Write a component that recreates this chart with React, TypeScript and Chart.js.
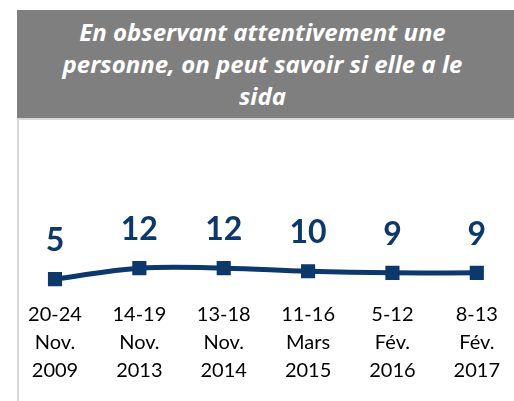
import React, { useEffect, useRef } from "react";
import { Chart, registerables } from "chart.js";

Chart.register(...registerables);

const titleLines = [
  "En observant attentivement une",
  "personne, on peut savoir si elle a le",
  "sida",
];
const categories = [
  ["20-24", "Nov.", "2009"],
  ["14-19", "Nov.", "2013"],
  ["13-18", "Nov.", "2014"],
  ["11-16", "Mars", "2015"],
  ["5-12", "Fév.", "2016"],
  ["8-13", "Fév.", "2017"],
];
const values = [5, 12, 12, 10, 9, 9];

const NAVY = "#0c386b";

const valueLabels = {
  id: "valueLabels",
  afterDatasetsDraw(chart: any) {
    const ctx = chart.ctx;
    const meta = chart.getDatasetMeta(0);
    ctx.save();
    ctx.fillStyle = NAVY;
    ctx.font = "bold 32px Lato";
    ctx.textAlign = "center";
    ctx.textBaseline = "alphabetic";
    meta.data.forEach((pt: any, i: number) => {
      ctx.fillText(String(values[i]), pt.x, pt.y - 28);
    });
    ctx.restore();
  },
};

export default function App() {
  const ref = useRef<HTMLCanvasElement>(null);
  useEffect(() => {
    if (!ref.current) return;
    const chart = new Chart(ref.current, {
      type: "line",
      data: {
        labels: categories,
        datasets: [
          {
            data: values,
            borderColor: NAVY,
            backgroundColor: NAVY,
            borderWidth: 5,
            tension: 0.4,
            pointStyle: "rect",
            pointRadius: 10,
            pointBackgroundColor: NAVY,
            pointBorderColor: NAVY,
            pointBorderWidth: 0,
          },
        ],
      },
      options: {
        animation: false,
        responsive: false,
        maintainAspectRatio: false,
        layout: { padding: { left: 55, right: 26, top: 130, bottom: 2 } },
        plugins: { legend: { display: false }, tooltip: { enabled: false } },
        scales: {
          x: {
            offset: false,
            grid: { display: false, drawTicks: false },
            border: { display: false },
            ticks: {
              color: "#000",
              font: { family: "Lato", size: 20, lineHeight: "28px" },
              padding: 14,
              autoSkip: false,
              maxRotation: 0,
              minRotation: 0,
            },
          },
          y: { display: false, min: 0, max: 100 },
        },
      },
      plugins: [valueLabels],
    });
    return () => chart.destroy();
  }, []);

  return (
    <div style={{ position: "fixed", left: 0, top: 0, width: 514, height: 401, background: "#fff", overflow: "hidden" }}>
      <canvas ref={ref} width={514} height={401} style={{ position: "absolute", left: 0, top: 0 }} />
      <div
        style={{
          position: "absolute",
          left: 17,
          top: 10,
          width: 497,
          height: 108,
          background: "#7f7f7f",
          color: "#fff",
          fontFamily: "'Open Sans'",
          fontWeight: "bold",
          fontStyle: "italic",
          fontSize: 24,
          lineHeight: "32px",
          textAlign: "center",
          display: "flex",
          flexDirection: "column",
          justifyContent: "center",
          paddingRight: 6,
          boxSizing: "border-box",
        }}
      >
        {titleLines.map((l, i) => (
          <div key={i} style={{ whiteSpace: "nowrap" }}>{l}</div>
        ))}
      </div>
      <div style={{ position: "absolute", left: 17, top: 118, width: 497, height: 2, background: "#d9d9d9" }} />
      <div style={{ position: "absolute", left: 17, top: 118, width: 2, height: 283, background: "#d9d9d9" }} />
    </div>
  );
}
